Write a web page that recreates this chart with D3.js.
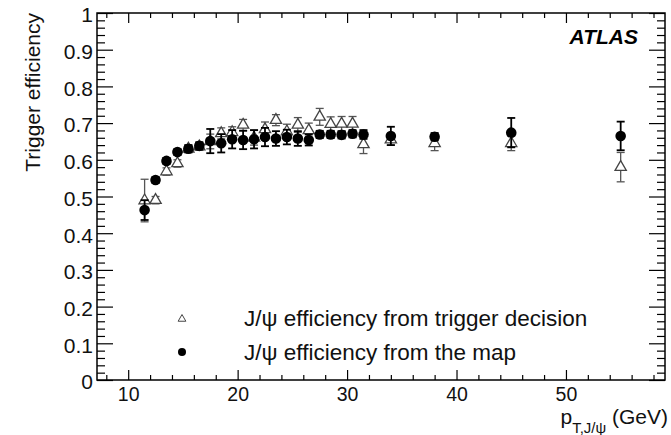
<!DOCTYPE html>
<html>
<head>
<meta charset="utf-8">
<script src="https://cdn.jsdelivr.net/npm/d3@7"></script>
<style>
  html, body { margin: 0; padding: 0; background: #fff; }
  svg { display: block; font-family: "Liberation Sans", Arial, Helvetica, sans-serif; }
</style>
</head>
<body>
<svg id="chart" width="671" height="435"></svg>
<script>
// Transverse-momentum bin centres (GeV)
const ptBins = [11.5, 12.5, 13.5, 14.5, 15.5, 16.5, 17.5, 18.5, 19.5, 20.5, 21.5,
                22.5, 23.5, 24.5, 25.5, 26.5, 27.5, 28.5, 29.5, 30.5, 31.5,
                34, 38, 45, 55];

// J/psi efficiency from trigger decision (open triangles)
const effTrigger = [0.489, 0.490, 0.568, 0.590, 0.630, 0.636, 0.650, 0.672, 0.675, 0.695, 0.660,
                    0.683, 0.708, 0.677, 0.695, 0.680, 0.717, 0.697, 0.698, 0.698, 0.642,
                    0.655, 0.645, 0.645, 0.580];
const errTrigger = [0.058, 0.010, 0.010, 0.010, 0.010, 0.010, 0.020, 0.015, 0.015, 0.015, 0.020,
                    0.020, 0.015, 0.020, 0.020, 0.020, 0.023, 0.020, 0.020, 0.020, 0.025,
                    0.015, 0.020, 0.020, 0.040];

// J/psi efficiency from the map (filled circles)
const effMap = [0.463, 0.545, 0.597, 0.621, 0.630, 0.638, 0.651, 0.645, 0.656, 0.654, 0.656,
                0.662, 0.658, 0.662, 0.658, 0.654, 0.669, 0.669, 0.668, 0.671, 0.669,
                0.665, 0.663, 0.674, 0.665];
const errMap = [0.027, 0.008, 0.008, 0.008, 0.010, 0.010, 0.033, 0.025, 0.025, 0.025, 0.025,
                0.025, 0.020, 0.020, 0.020, 0.015, 0.010, 0.010, 0.010, 0.010, 0.012,
                0.025, 0.010, 0.040, 0.039];

// Axis ticks
const xMajor = [10, 20, 30, 40, 50];
const xMinor = d3.range(8, 59, 2).filter(v => v % 10 !== 0);
const yMajor = d3.range(0, 11).map(i => i / 10);
const yMinor = d3.range(0, 51).map(i => i / 50).filter((v, i) => i % 5 !== 0);
const yTickLabel = v => (v === 0 ? "0" : v === 1 ? "1" : v.toFixed(1));

const legendLabels = ["J/\u03c8 efficiency from trigger decision", "J/\u03c8 efficiency from the map"];

const svg = d3.select("#chart");
const frame = { left: 97, right: 665, top: 13, bottom: 380 };

const x = d3.scaleLinear().domain([7.15, 59.05]).range([frame.left, frame.right]);
const y = d3.scaleLinear().domain([0, 1]).range([frame.bottom, frame.top]);

// Tick marks on all four sides, pointing into the frame
function ticks(axisGen, scale, values, size, transform, format) {
  const a = axisGen(scale).tickValues(values).tickSizeInner(-size).tickSizeOuter(0)
    .tickFormat(format || "");
  const g = svg.append("g").attr("transform", transform).call(a);
  g.select(".domain").remove();
  g.selectAll(".tick line").attr("stroke", "#000").attr("stroke-width", 1.2);
  return g;
}

ticks(d3.axisBottom, x, xMinor, 5, `translate(0,${frame.bottom})`);
ticks(d3.axisTop, x, xMinor, 5, `translate(0,${frame.top})`);
ticks(d3.axisTop, x, xMajor, 10, `translate(0,${frame.top})`);
ticks(d3.axisLeft, y, yMinor, 8, `translate(${frame.left},0)`);
ticks(d3.axisRight, y, yMinor, 8, `translate(${frame.right},0)`);
ticks(d3.axisRight, y, yMajor, 16, `translate(${frame.right},0)`);

const gx = ticks(d3.axisBottom, x, xMajor, 10, `translate(0,${frame.bottom})`, d3.format("d"));
gx.call(g => g.selectAll(".tick text")
  .attr("font-size", 19.5).attr("fill", "#111").attr("y", 7).attr("dy", "0.71em")
  .attr("font-family", "Liberation Sans, Arial, sans-serif"));

const gy = ticks(d3.axisLeft, y, yMajor, 16, `translate(${frame.left},0)`, yTickLabel);
gy.call(g => g.selectAll(".tick text")
  .attr("font-size", 21).attr("fill", "#111").attr("x", -4).attr("dy", "0.42em")
  .attr("font-family", "Liberation Sans, Arial, sans-serif"));

// Frame
svg.append("rect")
  .attr("x", frame.left).attr("y", frame.top)
  .attr("width", frame.right - frame.left).attr("height", frame.bottom - frame.top)
  .attr("fill", "none").attr("stroke", "#000").attr("stroke-width", 1.5);

// Error bars with end caps
function errorBars(vals, errs, color, width, cls) {
  const g = svg.append("g").attr("class", cls);
  const cap = 4;
  ptBins.forEach((pt, i) => {
    const cx = x(pt), y1 = y(vals[i] + errs[i]), y2 = y(vals[i] - errs[i]);
    g.append("line").attr("x1", cx).attr("x2", cx).attr("y1", y1).attr("y2", y2)
      .attr("stroke", color).attr("stroke-width", width);
    [y1, y2].forEach(yy => g.append("line")
      .attr("x1", cx - cap).attr("x2", cx + cap).attr("y1", yy).attr("y2", yy)
      .attr("stroke", color).attr("stroke-width", width));
  });
}

// Trigger-decision series: open grey triangles
errorBars(effTrigger, errTrigger, "#555", 1.3, "err-trigger");
const tri = d3.symbol().type(d3.symbolTriangle).size(55);
svg.append("g").selectAll("path").data(ptBins).join("path")
  .attr("d", tri)
  .attr("transform", (d, i) => `translate(${x(d)},${y(effTrigger[i])})`)
  .attr("fill", "#fff").attr("stroke", "#444").attr("stroke-width", 1.3);

// Map series: filled black circles
errorBars(effMap, errMap, "#000", 1.8, "err-map");
svg.append("g").selectAll("circle").data(ptBins).join("circle")
  .attr("cx", d => x(d)).attr("cy", (d, i) => y(effMap[i]))
  .attr("r", 5.3).attr("fill", "#000");

// Legend
const legend = svg.append("g");
legend.append("path")
  .attr("d", d3.symbol().type(d3.symbolTriangle).size(26))
  .attr("transform", "translate(182,319)")
  .attr("fill", "#fff").attr("stroke", "#444").attr("stroke-width", 1);
legend.append("circle").attr("cx", 182).attr("cy", 352).attr("r", 4).attr("fill", "#000");
legend.selectAll("text").data(legendLabels).join("text")
  .attr("x", 244).attr("y", (d, i) => 326 + i * 34)
  .attr("font-size", 22.5).attr("fill", "#111").text(d => d);

// ATLAS label
svg.append("text").attr("x", 638).attr("y", 44).attr("text-anchor", "end")
  .attr("font-size", 21).attr("font-weight", "bold").attr("font-style", "italic")
  .attr("fill", "#000").text("ATLAS");

// Axis titles
svg.append("text")
  .attr("transform", "translate(40,13) rotate(-90)")
  .attr("text-anchor", "end").attr("font-size", 21).attr("fill", "#111")
  .text("Trigger efficiency");

const xt = svg.append("text").attr("x", 668).attr("y", 424)
  .attr("text-anchor", "end").attr("font-size", 21).attr("fill", "#111");
xt.append("tspan").text("p");
xt.append("tspan").attr("dy", 9).attr("font-size", 15).text("T,J/\u03c8");
xt.append("tspan").attr("dy", -9).text(" (GeV)");
</script>
</body>
</html>
